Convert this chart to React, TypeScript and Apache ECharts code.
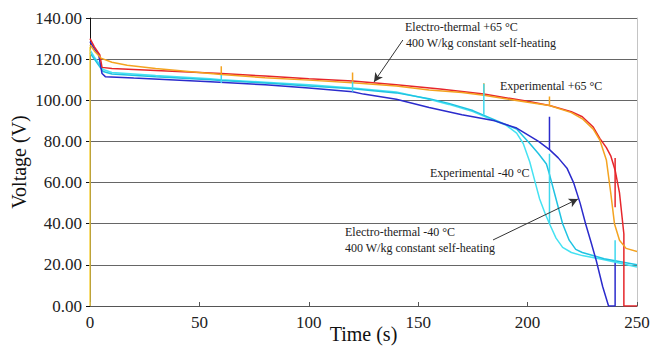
import React, { useEffect, useRef } from "react";
import * as echarts from "echarts";

// Time (s) / Voltage (V) curves
const redElectroThermal65: [number, number][] = [
  [0, 130], [2, 126], [4.5, 122], [5.5, 116], [10, 115.5], [20, 115], [40, 114], [60, 113],
  [80, 111.8], [100, 110.5], [120, 109.4], [140, 107.5], [160, 105.5], [180, 103], [200, 99.5],
  [210, 97.5], [220, 94.5], [225, 92], [230, 87], [233, 81.5], [236, 77], [238, 73], [240, 66],
  [242, 55], [243.5, 40], [244, 35], [244, 0], [250, 0],
];
const orangeExperimental65: [number, number][] = [
  [0, 127], [2, 124], [5, 120.5], [10, 118.5], [17, 117], [30, 115.5], [55, 113], [60, 112.5],
  [80, 111], [100, 109.8], [120, 108.5], [140, 107], [155, 105], [170, 103.8], [180, 102.5],
  [200, 99], [210, 97.5], [220, 94], [225, 91], [230, 86], [233, 80.7], [236, 71], [238, 55],
  [239.7, 40], [242, 32], [245, 28], [250, 26.5],
];
const yellowStart: [number, number][] = [[0, 0], [0, 126]];
const blueElectroThermal40: [number, number][] = [
  [0, 128.5], [2, 125], [4, 122], [5.5, 113], [7, 111.5], [20, 110.8], [55, 109], [80, 107.5],
  [100, 106], [120, 104.2], [125, 103], [140, 100.5], [155, 96.5], [170, 93], [185, 90],
  [195, 86.5], [205, 80], [210, 76], [214, 72], [218, 67], [221, 60], [224, 50], [226.5, 40],
  [229, 31], [231.4, 22], [234.3, 9.5], [237, 0], [240, 0], [240, 21],
];
const cyanExperimental40A: [number, number][] = [
  [0, 124.5], [2, 121], [4, 118], [6, 115], [10, 113.5], [30, 112], [55, 110.5], [60, 110],
  [80, 108.8], [100, 107.5], [120, 106], [140, 104], [155, 100.5], [164, 98], [175, 94.5],
  [185, 90], [190, 88], [195, 84], [198, 79], [201, 70], [203.5, 60], [205.5, 52], [208, 45],
  [210, 40], [213, 33], [216, 28.5], [220, 26], [225, 24.5], [235, 22.5], [250, 19],
];
const cyanExperimental40B: [number, number][] = [
  [0, 123], [2, 120], [4, 117], [6, 114], [10, 112.8], [30, 111.5], [55, 110], [60, 109.6],
  [80, 108.4], [100, 107], [120, 105.6], [140, 103.6], [155, 100.8], [164, 98.5], [175, 95],
  [185, 90.5], [195, 86], [201, 79], [205, 74], [208.6, 69], [210, 64], [213, 52], [216, 40],
  [219, 32], [222, 27.5], [225, 26], [235, 23], [250, 20],
];

// vertical spikes: [time, low, high]
const orangeSpikes: [number, number, number][] = [[60, 112.5, 116.5], [120, 108.5, 113.5], [180, 102.5, 108.3], [210, 97.5, 101.8]];
const cyanSpikes: [number, number, number][] = [[60, 108.4, 112.3], [120, 104.2, 109], [180, 93, 108], [210, 40, 74], [240, 21, 32]];
const blueSpikes: [number, number, number][] = [[210, 76, 92]];
const redSpikes: [number, number, number][] = [[240, 48, 72]];

const xTicks = { min: 0, max: 250, interval: 50 };
const yTicks = { min: 0, max: 140, interval: 20 };

// arrows in data coordinates: [from, to]
const arrow65: [number, number][] = [[143, 129.3], [129.8, 108.9]];
const arrow40: [number, number][] = [[184.2, 32.1], [223, 52]];

const SERIF = "Liberation Serif, DejaVu Serif Condensed, DejaVu Serif";

function lineSeries(data: [number, number][], color: string, z = 2) {
  return {
    type: "line",
    data,
    showSymbol: false,
    symbol: "none",
    lineStyle: { color, width: 1.5 },
    itemStyle: { color },
    z,
    silent: true,
  };
}

function spikeSeries(spikes: [number, number, number][], color: string) {
  return spikes.map((s) => lineSeries([[s[0], s[1]], [s[0], s[2]]], color, 3));
}

function arrowSeries(pts: [number, number][]) {
  return {
    type: "line",
    data: [],
    silent: true,
    markLine: {
      silent: true,
      symbol: ["none", "arrow"],
      symbolSize: [7, 9],
      label: { show: false },
      lineStyle: { color: "#333", width: 1, type: "solid" },
      data: [[{ coord: pts[0] }, { coord: pts[1] }]],
    },
  };
}

export default function App() {
  const ref = useRef<HTMLDivElement>(null);
  useEffect(() => {
    document.body.style.margin = "0";
    const chart = echarts.init(ref.current!, null, { renderer: "svg" });
    const txt = (x: number, y: number, t: string) => ({
      type: "text",
      x,
      y,
      style: {
        text: t,
        fill: "#222",
        fontFamily: SERIF,
        fontSize: 12,
        verticalAlign: "middle",
      },
    });
    chart.setOption({
      animation: false,
      backgroundColor: "#fff",
      textStyle: { fontFamily: SERIF },
      grid: { left: 90, right: 17, top: 18, bottom: 49, outerBoundsMode: "none", containLabel: false },
      xAxis: {
        type: "value",
        ...xTicks,
        name: "Time (s)",
        nameLocation: "middle",
        nameGap: 18,
        nameMoveOverlap: false,
        nameTextStyle: { fontFamily: SERIF, fontSize: 20, color: "#111" },
        axisLine: { show: true, lineStyle: { color: "#555", width: 1 } },
        axisTick: { show: true, inside: true, length: 4, lineStyle: { color: "#555" } },
        axisLabel: { fontFamily: SERIF, fontSize: 17, color: "#222", margin: 8 },
        splitLine: { show: false },
      },
      yAxis: [
        {
          type: "value",
          ...yTicks,
          name: "Voltage (V)",
          nameLocation: "middle",
          nameGap: 61,
          nameMoveOverlap: false,
          nameTextStyle: { fontFamily: SERIF, fontSize: 20, color: "#111" },
          axisLine: { show: true, onZero: false, lineStyle: { color: "#111", width: 1 } },
          axisTick: { show: true, inside: false, length: 4, lineStyle: { color: "#111" } },
          axisLabel: {
            fontFamily: SERIF,
            fontSize: 17,
            color: "#222",
            margin: 8,
            formatter: (v: number) => v.toFixed(2),
          },
          splitLine: { show: true, lineStyle: { color: "#666", width: 1 } },
        },
        {
          type: "value",
          ...yTicks,
          position: "right",
          axisLine: { show: true, onZero: false, lineStyle: { color: "#c4c4c4", width: 1 } },
          axisTick: { show: false },
          axisLabel: { show: false },
          splitLine: { show: false },
        },
      ],
      series: [
        lineSeries(cyanExperimental40A, "#45e2f2"),
        lineSeries(cyanExperimental40B, "#1fc3e2"),
        lineSeries(blueElectroThermal40, "#2b2bcc"),
        lineSeries(redElectroThermal65, "#e6262b"),
        lineSeries(orangeExperimental65, "#f4a320"),
        lineSeries(yellowStart, "#f7d347"),
        ...spikeSeries(orangeSpikes, "#f4a320"),
        ...spikeSeries(cyanSpikes, "#3fd8ee"),
        ...spikeSeries(blueSpikes, "#2b2bcc"),
        ...spikeSeries(redSpikes, "#e6262b"),
        arrowSeries(arrow65),
        arrowSeries(arrow40),
      ],
      graphic: [
        txt(405, 27, "Electro-thermal +65 °C"),
        txt(406, 43, "400 W/kg constant self-heating"),
        txt(500, 86, "Experimental +65 °C"),
        txt(430, 173, "Experimental -40 °C"),
        txt(345, 232, "Electro-thermal -40 °C"),
        txt(345, 248, "400 W/kg constant self-heating"),
      ],
    });
    return () => chart.dispose();
  }, []);
  return <div ref={ref} style={{ width: 654, height: 355 }} />;
}
